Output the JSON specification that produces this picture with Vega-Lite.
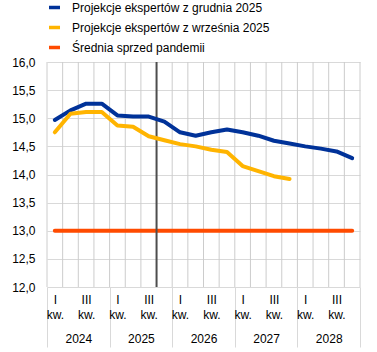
{
  "$schema": "https://vega.github.io/schema/vega-lite/v6.json",
  "width": 313,
  "height": 225,
  "autosize": "none",
  "padding": {"left": 47, "top": 62, "right": 17, "bottom": 65},
  "config": {
    "font": "Liberation Sans",
    "view": {"stroke": null},
    "axis": {"labelFont": "Liberation Sans", "labelFontSize": 12, "labelColor": "#000000"},
    "legend": {"labelFont": "Liberation Sans", "labelFontSize": 12, "labelColor": "#000000", "labelLimit": 400}
  },
  "datasets": {
    "projekcje": [
      {"kwartal": "2024 Q1", "t": 0.5, "seria": "Projekcje ekspertów z grudnia 2025", "wartosc": 14.97},
      {"kwartal": "2024 Q2", "t": 1.5, "seria": "Projekcje ekspertów z grudnia 2025", "wartosc": 15.14},
      {"kwartal": "2024 Q3", "t": 2.5, "seria": "Projekcje ekspertów z grudnia 2025", "wartosc": 15.26},
      {"kwartal": "2024 Q4", "t": 3.5, "seria": "Projekcje ekspertów z grudnia 2025", "wartosc": 15.26},
      {"kwartal": "2025 Q1", "t": 4.5, "seria": "Projekcje ekspertów z grudnia 2025", "wartosc": 15.05},
      {"kwartal": "2025 Q2", "t": 5.5, "seria": "Projekcje ekspertów z grudnia 2025", "wartosc": 15.03},
      {"kwartal": "2025 Q3", "t": 6.5, "seria": "Projekcje ekspertów z grudnia 2025", "wartosc": 15.03},
      {"kwartal": "2025 Q4", "t": 7.5, "seria": "Projekcje ekspertów z grudnia 2025", "wartosc": 14.94},
      {"kwartal": "2026 Q1", "t": 8.5, "seria": "Projekcje ekspertów z grudnia 2025", "wartosc": 14.75},
      {"kwartal": "2026 Q2", "t": 9.5, "seria": "Projekcje ekspertów z grudnia 2025", "wartosc": 14.69},
      {"kwartal": "2026 Q3", "t": 10.5, "seria": "Projekcje ekspertów z grudnia 2025", "wartosc": 14.75},
      {"kwartal": "2026 Q4", "t": 11.5, "seria": "Projekcje ekspertów z grudnia 2025", "wartosc": 14.80},
      {"kwartal": "2027 Q1", "t": 12.5, "seria": "Projekcje ekspertów z grudnia 2025", "wartosc": 14.75},
      {"kwartal": "2027 Q2", "t": 13.5, "seria": "Projekcje ekspertów z grudnia 2025", "wartosc": 14.69},
      {"kwartal": "2027 Q3", "t": 14.5, "seria": "Projekcje ekspertów z grudnia 2025", "wartosc": 14.60},
      {"kwartal": "2027 Q4", "t": 15.5, "seria": "Projekcje ekspertów z grudnia 2025", "wartosc": 14.55},
      {"kwartal": "2028 Q1", "t": 16.5, "seria": "Projekcje ekspertów z grudnia 2025", "wartosc": 14.50},
      {"kwartal": "2028 Q2", "t": 17.5, "seria": "Projekcje ekspertów z grudnia 2025", "wartosc": 14.46},
      {"kwartal": "2028 Q3", "t": 18.5, "seria": "Projekcje ekspertów z grudnia 2025", "wartosc": 14.41},
      {"kwartal": "2028 Q4", "t": 19.5, "seria": "Projekcje ekspertów z grudnia 2025", "wartosc": 14.29},
      {"kwartal": "2024 Q1", "t": 0.5, "seria": "Projekcje ekspertów z września 2025", "wartosc": 14.75},
      {"kwartal": "2024 Q2", "t": 1.5, "seria": "Projekcje ekspertów z września 2025", "wartosc": 15.08},
      {"kwartal": "2024 Q3", "t": 2.5, "seria": "Projekcje ekspertów z września 2025", "wartosc": 15.11},
      {"kwartal": "2024 Q4", "t": 3.5, "seria": "Projekcje ekspertów z września 2025", "wartosc": 15.11},
      {"kwartal": "2025 Q1", "t": 4.5, "seria": "Projekcje ekspertów z września 2025", "wartosc": 14.87},
      {"kwartal": "2025 Q2", "t": 5.5, "seria": "Projekcje ekspertów z września 2025", "wartosc": 14.85},
      {"kwartal": "2025 Q3", "t": 6.5, "seria": "Projekcje ekspertów z września 2025", "wartosc": 14.68},
      {"kwartal": "2025 Q4", "t": 7.5, "seria": "Projekcje ekspertów z września 2025", "wartosc": 14.61},
      {"kwartal": "2026 Q1", "t": 8.5, "seria": "Projekcje ekspertów z września 2025", "wartosc": 14.54},
      {"kwartal": "2026 Q2", "t": 9.5, "seria": "Projekcje ekspertów z września 2025", "wartosc": 14.50},
      {"kwartal": "2026 Q3", "t": 10.5, "seria": "Projekcje ekspertów z września 2025", "wartosc": 14.44},
      {"kwartal": "2026 Q4", "t": 11.5, "seria": "Projekcje ekspertów z września 2025", "wartosc": 14.40},
      {"kwartal": "2027 Q1", "t": 12.5, "seria": "Projekcje ekspertów z września 2025", "wartosc": 14.15},
      {"kwartal": "2027 Q2", "t": 13.5, "seria": "Projekcje ekspertów z września 2025", "wartosc": 14.06},
      {"kwartal": "2027 Q3", "t": 14.5, "seria": "Projekcje ekspertów z września 2025", "wartosc": 13.97},
      {"kwartal": "2027 Q4", "t": 15.5, "seria": "Projekcje ekspertów z września 2025", "wartosc": 13.92}
    ],
    "srednia": [
      {"kwartal": "2024 Q1", "t": 0.5, "seria": "Średnia sprzed pandemii", "wartosc": 13.0},
      {"kwartal": "2024 Q2", "t": 1.5, "seria": "Średnia sprzed pandemii", "wartosc": 13.0},
      {"kwartal": "2024 Q3", "t": 2.5, "seria": "Średnia sprzed pandemii", "wartosc": 13.0},
      {"kwartal": "2024 Q4", "t": 3.5, "seria": "Średnia sprzed pandemii", "wartosc": 13.0},
      {"kwartal": "2025 Q1", "t": 4.5, "seria": "Średnia sprzed pandemii", "wartosc": 13.0},
      {"kwartal": "2025 Q2", "t": 5.5, "seria": "Średnia sprzed pandemii", "wartosc": 13.0},
      {"kwartal": "2025 Q3", "t": 6.5, "seria": "Średnia sprzed pandemii", "wartosc": 13.0},
      {"kwartal": "2025 Q4", "t": 7.5, "seria": "Średnia sprzed pandemii", "wartosc": 13.0},
      {"kwartal": "2026 Q1", "t": 8.5, "seria": "Średnia sprzed pandemii", "wartosc": 13.0},
      {"kwartal": "2026 Q2", "t": 9.5, "seria": "Średnia sprzed pandemii", "wartosc": 13.0},
      {"kwartal": "2026 Q3", "t": 10.5, "seria": "Średnia sprzed pandemii", "wartosc": 13.0},
      {"kwartal": "2026 Q4", "t": 11.5, "seria": "Średnia sprzed pandemii", "wartosc": 13.0},
      {"kwartal": "2027 Q1", "t": 12.5, "seria": "Średnia sprzed pandemii", "wartosc": 13.0},
      {"kwartal": "2027 Q2", "t": 13.5, "seria": "Średnia sprzed pandemii", "wartosc": 13.0},
      {"kwartal": "2027 Q3", "t": 14.5, "seria": "Średnia sprzed pandemii", "wartosc": 13.0},
      {"kwartal": "2027 Q4", "t": 15.5, "seria": "Średnia sprzed pandemii", "wartosc": 13.0},
      {"kwartal": "2028 Q1", "t": 16.5, "seria": "Średnia sprzed pandemii", "wartosc": 13.0},
      {"kwartal": "2028 Q2", "t": 17.5, "seria": "Średnia sprzed pandemii", "wartosc": 13.0},
      {"kwartal": "2028 Q3", "t": 18.5, "seria": "Średnia sprzed pandemii", "wartosc": 13.0},
      {"kwartal": "2028 Q4", "t": 19.5, "seria": "Średnia sprzed pandemii", "wartosc": 13.0}
    ],
    "granica": [{"t": 7, "opis": "początek projekcji"}],
    "siatka": [
      {"t": 0}, {"t": 1}, {"t": 2}, {"t": 3}, {"t": 4}, {"t": 5}, {"t": 6}, {"t": 7}, {"t": 8}, {"t": 9}, {"t": 10},
      {"t": 11}, {"t": 12}, {"t": 13}, {"t": 14}, {"t": 15}, {"t": 16}, {"t": 17}, {"t": 18}, {"t": 19}, {"t": 20}
    ]
  },
  "resolve": {"axis": {"x": "independent"}},
  "layer": [
    {
      "data": {"name": "siatka"},
      "mark": {"type": "rule", "color": "#cccccc", "strokeWidth": 1},
      "encoding": {
        "x": {
          "field": "t",
          "type": "quantitative",
          "scale": {"domain": [0, 20], "nice": false, "zero": false},
          "axis": {
            "title": null,
            "orient": "bottom",
            "domain": false,
            "grid": false,
            "ticks": false,
            "labels": false
          }
        }
      }
    },
    {
      "data": {"name": "srednia"},
      "mark": {"type": "line", "strokeWidth": 4, "strokeCap": "round"},
      "encoding": {
        "x": {
          "field": "t",
          "type": "quantitative",
          "axis": {
            "title": null,
            "orient": "bottom",
            "domain": false,
            "grid": false,
            "ticks": false,
            "labels": false
          }
        },
        "y": {
          "field": "wartosc",
          "type": "quantitative",
          "scale": {"domain": [12, 16], "nice": false, "zero": false},
          "axis": {
            "title": null,
            "domain": false,
            "ticks": false,
            "values": [12, 12.5, 13, 13.5, 14, 14.5, 15, 15.5, 16],
            "grid": true,
            "gridColor": "#d9d9d9",
            "labelPadding": 12,
            "labelExpr": "replace(format(datum.value, '.1f'), '.', ',')"
          }
        },
        "color": {
          "field": "seria",
          "type": "nominal",
          "scale": {
            "domain": ["Projekcje ekspertów z grudnia 2025", "Projekcje ekspertów z września 2025", "Średnia sprzed pandemii"],
            "range": ["#003299", "#ffb400", "#ff4b00"]
          },
          "legend": {
            "title": null,
            "orient": "none",
            "legendX": 0,
            "legendY": -62,
            "direction": "vertical",
            "padding": 0,
            "symbolType": "stroke",
            "symbolSize": 121,
            "symbolStrokeWidth": 3.5,
            "labelOffset": 10,
            "labelLimit": 400,
            "rowPadding": 5
          }
        }
      }
    },
    {
      "data": {"name": "granica"},
      "mark": {"type": "rule", "color": "#4d4d4d", "strokeWidth": 2},
      "encoding": {
        "x": {
          "field": "t",
          "type": "quantitative",
          "axis": {
            "title": null,
            "orient": "bottom",
            "domain": false,
            "grid": false,
            "values": [0, 4, 8, 12, 16, 20],
            "ticks": true,
            "tickSize": 60,
            "tickColor": "#d9d9d9",
            "tickWidth": 1,
            "labelOverlap": false,
            "labelBound": false,
            "labelFlush": false,
            "labelAlign": "center",
            "labelBaseline": "top",
            "labelOffset": 31.3,
            "labelPadding": -14,
            "labelExpr": "datum.value < 20 ? '' + (2024 + datum.value / 4) : ''"
          }
        }
      }
    },
    {
      "data": {"name": "projekcje"},
      "mark": {"type": "line", "strokeWidth": 4, "strokeCap": "round", "strokeJoin": "round"},
      "encoding": {
        "x": {
          "field": "t",
          "type": "quantitative",
          "axis": {
            "title": null,
            "orient": "bottom",
            "domain": false,
            "values": [0, 2, 4, 6, 8, 10, 12, 14, 16, 18],
            "grid": false,
            "ticks": false,
            "labelOverlap": false,
            "labelBound": false,
            "labelFlush": false,
            "labelAlign": "center",
            "labelBaseline": "top",
            "labelLineHeight": 15,
            "labelOffset": 7.8,
            "labelPadding": 7,
            "labelExpr": "datum.value % 4 === 0 ? ['I', 'kw.'] : ['III', 'kw.']"
          }
        },
        "y": {
          "field": "wartosc",
          "type": "quantitative",
          "scale": {"domain": [12, 16], "nice": false, "zero": false},
          "axis": {
            "title": null,
            "domain": false,
            "ticks": false,
            "values": [12, 12.5, 13, 13.5, 14, 14.5, 15, 15.5, 16],
            "grid": true,
            "gridColor": "#d9d9d9",
            "labelPadding": 12,
            "labelExpr": "replace(format(datum.value, '.1f'), '.', ',')"
          }
        },
        "color": {"field": "seria", "type": "nominal"}
      }
    }
  ]
}
